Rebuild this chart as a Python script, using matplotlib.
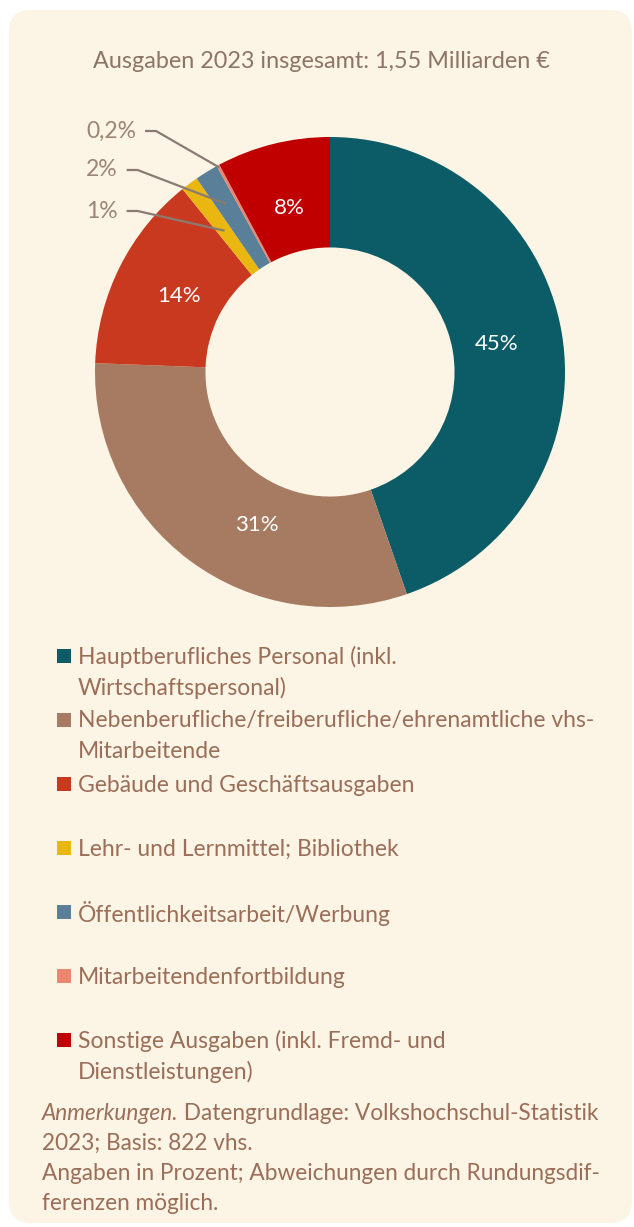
import matplotlib
matplotlib.use("Agg")
import matplotlib.pyplot as plt
from matplotlib.patches import FancyBboxPatch, Rectangle
import numpy as np

# chart content
title = "Ausgaben 2023 insgesamt: 1,55 Milliarden €"
categories = [
    "Hauptberufliches Personal (inkl.\nWirtschaftspersonal)",
    "Nebenberufliche/freiberufliche/ehrenamtliche vhs-\nMitarbeitende",
    "Gebäude und Geschäftsausgaben",
    "Lehr- und Lernmittel; Bibliothek",
    "Öffentlichkeitsarbeit/Werbung",
    "Mitarbeitendenfortbildung",
    "Sonstige Ausgaben (inkl. Fremd- und\nDienstleistungen)",
]
shares = [44.7, 30.9, 13.6, 1.2, 1.6, 0.2, 7.8]
share_labels = ["45%", "31%", "14%", "1%", "2%", "0,2%", "8%"]
colors = ["#0B5C66", "#A67B62", "#C9391F", "#E9B710", "#5A7F98", "#EB8770", "#C00000"]
note_head = "Anmerkungen."
notes = [
    "Datengrundlage: Volkshochschul-Statistik",
    "2023; Basis: 822 vhs.",
    "Angaben in Prozent; Abweichungen durch Rundungsdif-",
    "ferenzen möglich.",
]

# layout (pixels)
W, H = 634, 1227
cx, cy, R = 330, 372, 235
hole = 0.53
panel_col = "#FCF4E4"
text_col = "#9A6E58"
label_col = "#9C8476"

plt.rcParams['font.family'] = ['Lato', 'DejaVu Sans']

fig = plt.figure(figsize=(W / 100, H / 100), dpi=100, facecolor="white")

# background panel
bg = fig.add_axes([0, 0, 1, 1], zorder=0)
bg.set_xlim(0, W)
bg.set_ylim(H, 0)
bg.axis("off")
bg.add_patch(FancyBboxPatch((9, 10), 623, 1213, boxstyle="round,pad=0,rounding_size=22",
                            facecolor=panel_col, edgecolor="none"))

# donut
ax = fig.add_axes([(cx - R) / W, (H - cy - R) / H, 2 * R / W, 2 * R / H], zorder=1)
wedges, _ = ax.pie(shares, colors=colors, startangle=90, counterclock=False,
                   wedgeprops=dict(width=1 - hole, linewidth=0))
ax.set_xlim(-1, 1)
ax.set_ylim(-1, 1)
ax.set_aspect("equal")
ax.axis("off")

# foreground for text and leader lines
fg = fig.add_axes([0, 0, 1, 1], zorder=2)
fg.set_xlim(0, W)
fg.set_ylim(H, 0)
fg.axis("off")
fg.patch.set_alpha(0)


def to_px(ang, r):
    a = np.deg2rad(ang)
    return cx + R * r * np.cos(a), cy - R * r * np.sin(a)


fg.text(321, 62, title, ha="center", va="center", fontsize=16.8, color="#8C7468")

# labels inside the ring
inside_shift = {0: 0, 1: 11, 2: 0, 6: 0}
for i, shift in inside_shift.items():
    w = wedges[i]
    mid = (w.theta1 + w.theta2) / 2 + shift
    x, y = to_px(mid, 0.72)
    fg.text(x, y, share_labels[i], ha="center", va="center", fontsize=16, color="white")

# small slices: labels outside with leader lines
fig.canvas.draw()
renderer = fig.canvas.get_renderer()
outside = {5: (86, 131, 0.99), 4: (86, 170, 0.84), 3: (86, 211, 0.75)}
for i, (tx, ty, rr) in outside.items():
    w = wedges[i]
    mid = (w.theta1 + w.theta2) / 2
    t = fg.text(tx, ty, share_labels[i], ha="left", va="center", fontsize=16.5, color=label_col)
    bb = t.get_window_extent(renderer)
    right = fg.transData.inverted().transform((bb.x1, bb.y0))[0]
    x0 = right + 9
    ex, ey = to_px(mid, rr)
    fg.plot([x0, x0 + 11, ex], [ty, ty, ey], color="#8A7B72", lw=1.6, solid_capstyle="butt")

# legend
for i, (lab, col) in enumerate(zip(categories, colors)):
    y = 657 + 64 * i
    fg.add_patch(Rectangle((57, y - 8), 14, 14, facecolor=col, edgecolor="none"))
    for k, line in enumerate(lab.split("\n")):
        fg.text(78, y + 31 * k, line, ha="left", va="center", fontsize=16.5, color=text_col)

# footer
head = fg.text(42, 1113, note_head, ha="left", va="center", fontsize=16.3, color=text_col,
               style="italic")
fg.annotate(" " + notes[0], xy=(1, 0.5), xycoords=head, ha="left", va="center",
            fontsize=16.3, color=text_col)
for k, line in enumerate(notes[1:]):
    fg.text(42, 1143 + 30 * k, line, ha="left", va="center", fontsize=16.3, color=text_col)

fig.savefig("out.png", dpi=100, facecolor="white")
